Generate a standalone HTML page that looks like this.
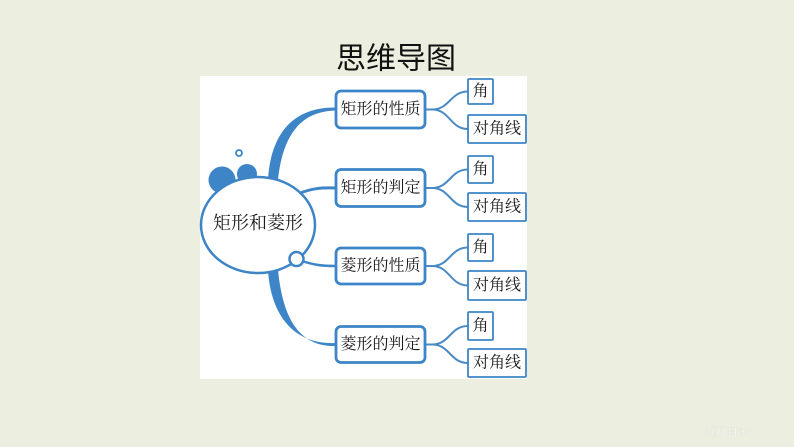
<!DOCTYPE html>
<html><head><meta charset="utf-8"><style>
html,body{margin:0;padding:0;}
body{width:794px;height:447px;background:#ecefdf;overflow:hidden;}
svg{display:block;}
.serif{font-family:"Liberation Serif","Noto Serif CJK SC","Noto Serif CJK JP",serif;fill:#1a1a1a;}
</style></head><body>
<svg width="794" height="447" viewBox="0 0 794 447" xmlns="http://www.w3.org/2000/svg">
<rect x="0" y="0" width="794" height="447" fill="#ecefdf"/>
<text x="396" y="59" text-anchor="middle" dominant-baseline="central" font-family="Liberation Sans, Noto Sans CJK SC, sans-serif" font-size="30" fill="#111">思维导图</text>
<rect x="200" y="76" width="327" height="303" fill="#ffffff"/>

<!-- blobs -->
<circle cx="222" cy="180" r="13.5" fill="#3d85c6"/>
<circle cx="247" cy="174" r="10" fill="#3d85c6"/>
<circle cx="239" cy="153" r="3" fill="none" stroke="#3d85c6" stroke-width="1.8"/>

<!-- thick branches -->
<path d="M268,180 C271,128 298,107 336,107.5 L336,110.5 C303,111 283,132 278,180 Z" fill="#3d85c6"/>
<path d="M268,270 C271,318 296,345 336,343 L336,346 C300,347 283,320 278,270 Z" fill="#3d85c6"/>
<path d="M298,194 C312,188 322,187.5 336,188" fill="none" stroke="#3d85c6" stroke-width="3"/>
<path d="M302,261 C314,265 322,266 336,266" fill="none" stroke="#3d85c6" stroke-width="2.5"/>

<!-- central ellipse -->
<ellipse cx="258" cy="225" rx="57" ry="48" fill="#ffffff" stroke="#3d85c6" stroke-width="2.5"/>
<text x="258" y="223" text-anchor="middle" dominant-baseline="central" class="serif" font-size="18">矩形和菱形</text>
<circle cx="296.5" cy="259" r="7" fill="#ffffff" stroke="#3d85c6" stroke-width="2.5"/>

<g fill="none" stroke="#4a8ac4" stroke-width="2">
<path d="M425,109.5 L432,109.5 C450,109.5 450,91.5 468,91.5"/>
<path d="M425,109.5 L432,109.5 C450,109.5 450,129 468,129"/>
<path d="M425,188 L432,188 C450,188 450,169.5 468,169.5"/>
<path d="M425,188 L432,188 C450,188 450,207 468,207"/>
<path d="M425,266 L432,266 C450,266 450,247.5 468,247.5"/>
<path d="M425,266 L432,266 C450,266 450,285.5 468,285.5"/>
<path d="M425,344.5 L432,344.5 C450,344.5 450,326 468,326"/>
<path d="M425,344.5 L432,344.5 C450,344.5 450,363 468,363"/>
</g>

<g fill="#ffffff" stroke="#3d85c6" stroke-width="2.8">
<rect x="336" y="91" width="89" height="37" rx="5"/>
<rect x="336" y="169.5" width="89" height="37" rx="5"/>
<rect x="336" y="248" width="89" height="36" rx="5"/>
<rect x="336" y="326.5" width="89" height="36" rx="5"/>
</g>
<g fill="#ffffff" stroke="#3d85c6" stroke-width="1.8">
<rect x="468" y="79" width="25" height="25" rx="1"/>
<rect x="468" y="115" width="58" height="28" rx="1"/>
<rect x="468" y="156" width="25" height="27" rx="1"/>
<rect x="468" y="193" width="58" height="28" rx="1"/>
<rect x="468" y="234" width="25" height="27" rx="1"/>
<rect x="468" y="271" width="58" height="29" rx="1"/>
<rect x="468" y="312" width="25" height="28" rx="1"/>
<rect x="468" y="349" width="58" height="28" rx="1"/>
</g>

<g class="serif" font-size="16" text-anchor="middle" dominant-baseline="central">
<text x="380.5" y="109.5">矩形的性质</text>
<text x="380.5" y="188">矩形的判定</text>
<text x="380.5" y="266">菱形的性质</text>
<text x="380.5" y="344.5">菱形的判定</text>
<text x="480.5" y="91.5">角</text>
<text x="497" y="129">对角线</text>
<text x="480.5" y="169.5">角</text>
<text x="497" y="207">对角线</text>
<text x="480.5" y="247.5">角</text>
<text x="497" y="285.5">对角线</text>
<text x="480.5" y="326">角</text>
<text x="497" y="363">对角线</text>
</g>

<text x="727" y="432" text-anchor="middle" dominant-baseline="central" font-family="Liberation Sans, Noto Sans CJK SC, sans-serif" font-size="11" fill="#ffffff" stroke="#d8dccb" stroke-width="0.3">-返回目录-</text>
</svg>
</body></html>
